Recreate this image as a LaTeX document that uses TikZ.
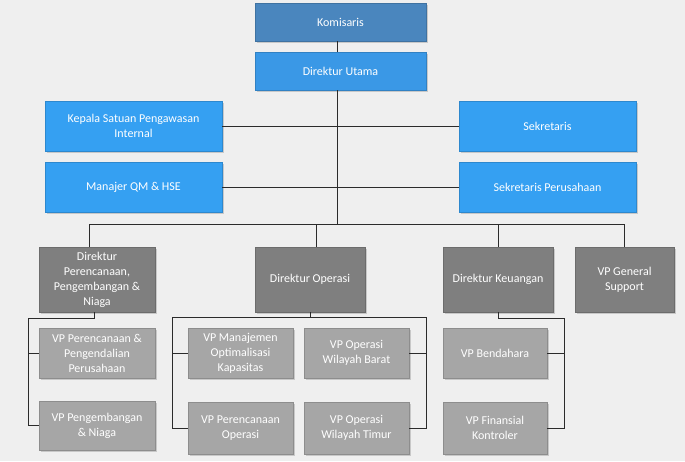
\documentclass[tikz,border=0pt]{standalone}
\usepackage{fontspec}
\setmainfont{Carlito}
\usetikzlibrary{shadows}
\definecolor{bgcol}{HTML}{EFEFEF}
\definecolor{kombox}{HTML}{4A86BE}
\definecolor{blubox}{HTML}{35A0F2}
\definecolor{dutbox}{HTML}{3A98E6}
\definecolor{dirbox}{HTML}{7F7F7F}
\definecolor{vpbox}{HTML}{A6A6A6}
\definecolor{linecol}{HTML}{2B2B2B}

\begin{document}
\begin{tikzpicture}[x=1pt,y=-1pt,
  box/.style={draw=#1!85!black,line width=0.4pt,fill=#1,text=white,align=center,
    inner sep=2pt,font=\fontsize{12}{15}\selectfont,
    drop shadow={shadow xshift=1.5pt,shadow yshift=-1.5pt,opacity=0.35}},
  conn/.style={draw=linecol,line width=0.8pt}]
\useasboundingbox[fill=bgcol] (0,0) rectangle (685,461);

% pimpinan
\node[box=kombox,minimum width=171pt,minimum height=38pt] (kom) at (340.5,22) {Komisaris};
\node[box=dutbox,minimum width=171pt,minimum height=38pt] (dirut) at (340.5,71) {Direktur Utama};

% staf
\node[box=blubox,minimum width=177pt,minimum height=50pt] (spi) at (133.5,126) {Kepala Satuan Pengawasan\\Internal};
\node[box=blubox,minimum width=177pt,minimum height=50pt] (sekr) at (547.5,126) {Sekretaris};
\node[box=blubox,minimum width=177pt,minimum height=50pt] (qm) at (133.5,187) {Manajer QM \& HSE};
\node[box=blubox,minimum width=177pt,minimum height=50pt] (sekper) at (547.5,187) {Sekretaris Perusahaan};

% direktur
\node[box=dirbox,minimum width=116pt,minimum height=65pt] (dpn) at (97,279.5) {Direktur\\Perencanaan,\\Pengembangan \&\\Niaga};
\node[box=dirbox,minimum width=110pt,minimum height=65pt] (dop) at (310,279.5) {Direktur Operasi};
\node[box=dirbox,minimum width=110pt,minimum height=65pt] (dkeu) at (498,279.5) {Direktur Keuangan};
\node[box=dirbox,minimum width=99pt,minimum height=65pt] (vpgs) at (624.5,279.5) {VP General\\Support};

% vp
\node[box=vpbox,minimum width=116pt,minimum height=50pt] (vppp) at (97,353) {VP Perencanaan \&\\Pengendalian\\Perusahaan};
\node[box=vpbox,minimum width=116pt,minimum height=49pt] (vppn) at (97,425.5) {VP Pengembangan\\\& Niaga};
\node[box=vpbox,minimum width=105pt,minimum height=50pt] (vpmok) at (240.5,353) {VP Manajemen\\Optimalisasi\\Kapasitas};
\node[box=vpbox,minimum width=105pt,minimum height=52pt] (vppo) at (240.5,428) {VP Perencanaan\\Operasi};
\node[box=vpbox,minimum width=105pt,minimum height=50pt] (vpowb) at (356.5,353) {VP Operasi\\Wilayah Barat};
\node[box=vpbox,minimum width=105pt,minimum height=52pt] (vpowt) at (356.5,428) {VP Operasi\\Wilayah Timur};
\node[box=vpbox,minimum width=104pt,minimum height=50pt] (vpb) at (495,353) {VP Bendahara};
\node[box=vpbox,minimum width=104pt,minimum height=52pt] (vpfk) at (495,428) {VP Finansial\\Kontroler};

\coordinate (spine) at (337,224);
\coordinate (jpn) at (28,318);
\coordinate (jopL) at (172,317);
\coordinate (jopR) at (426,317);
\coordinate (jkeu) at (564,318);

\draw[conn] (kom.south -| spine) -- (dirut.north -| spine);
\draw[conn] (dirut.south -| spine) -- (spine);
\draw[conn] (spi.east) -- (sekr.west);
\draw[conn] (qm.east) -- (sekper.west);
\draw[conn] ([xshift=-8pt]dpn.north) |- (vpgs.north |- spine) -- (vpgs.north);
\draw[conn] ([xshift=6pt]dop.north) -- ([xshift=6pt]dop.north |- spine);
\draw[conn] (dkeu.north) -- (dkeu.north |- spine);

\draw[conn] ([xshift=-3pt]dpn.south) |- (jpn) |- (vppn.west);
\draw[conn] (jpn |- vppp.west) -- (vppp.west);

\draw[conn] (dop.south) -- (dop.south |- jopL);
\draw[conn] (jopL) -- (jopR);
\draw[conn] (jopL) |- (vppo.west);
\draw[conn] (jopL |- vpmok.west) -- (vpmok.west);
\draw[conn] (jopR) |- (vpowt.east);
\draw[conn] (jopR |- vpowb.east) -- (vpowb.east);

\draw[conn] (dkeu.south) |- (jkeu) |- (vpfk.east);
\draw[conn] (jkeu |- vpb.east) -- (vpb.east);
\end{tikzpicture}
\end{document}
